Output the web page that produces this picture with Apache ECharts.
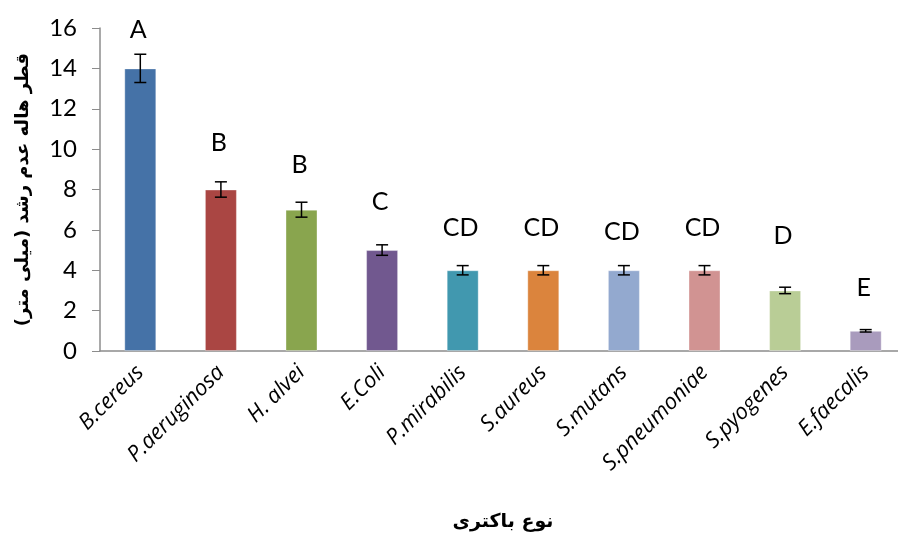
<!DOCTYPE html>
<html>
<head>
<meta charset="utf-8">
<script src="https://cdn.jsdelivr.net/npm/echarts@6/dist/echarts.min.js"></script>
<style>
  html, body { margin: 0; padding: 0; background: #fff; }
  #chart { width: 898px; height: 538px; }
</style>
</head>
<body>
<div id="chart"></div>
<script>
// bacteria (x axis)
var bacteria = ['B.cereus', 'P.aeruginosa', 'H. alvei', 'E.Coli', 'P.mirabilis',
  'S.aureus', 'S.mutans', 'S.pneumoniae', 'S.pyogenes', 'E.faecalis']
// inhibition zone diameter (mm)
var zoneMean = [14, 8, 7, 5, 4, 4, 4, 4, 3, 1]
var zoneErr = [0.7, 0.38, 0.37, 0.26, 0.23, 0.23, 0.23, 0.23, 0.16, 0.06]
// significance letters and the height they are written at
var groupLetter = ['A', 'B', 'B', 'C', 'CD', 'CD', 'CD', 'CD', 'D', 'E']
var letterY = [15.9, 10.3, 9.2, 7.4, 6.1, 6.1, 5.9, 6.1, 5.7, 3.1]
var yTicks = [0, 2, 4, 6, 8, 10, 12, 14, 16]

var barColors = ['#4572A7', '#AA4643', '#89A54E', '#71588F', '#4198AF',
  '#DB843D', '#93A9CF', '#D19392', '#B9CD96', '#A99BBD']

var chart = echarts.init(document.getElementById('chart'))

chart.setOption({
  backgroundColor: '#fff',
  animation: false,
  grid: {
    left: 100,
    top: 28,
    width: 806,
    height: 323,
    outerBoundsMode: 'none'
  },
  xAxis: {
    type: 'category',
    data: bacteria,
    name: 'نوع باکتری',
    nameLocation: 'middle',
    nameGap: 162,
    nameTextStyle: {
      fontFamily: 'DejaVu Sans',
      fontWeight: 'bold',
      fontSize: 19,
      color: '#000'
    },
    axisLine: { lineStyle: { color: '#8c8c8c', width: 1.5 } },
    axisTick: { show: false },
    axisLabel: {
      rotate: 45,
      margin: 18,
      interval: 0,
      fontFamily: 'Open Sans',
      fontStyle: 'italic',
      fontSize: 22,
      color: '#000'
    }
  },
  yAxis: {
    type: 'value',
    min: yTicks[0],
    max: yTicks[yTicks.length - 1],
    interval: 2,
    name: 'قطر هاله عدم رشد (میلی متر)',
    nameLocation: 'middle',
    nameRotate: 90,
    nameGap: 68,
    nameTextStyle: {
      fontFamily: 'DejaVu Sans',
      fontWeight: 'bold',
      fontSize: 18,
      color: '#000'
    },
    axisLine: { show: true, lineStyle: { color: '#8c8c8c', width: 1.5 } },
    axisTick: { show: true, length: 8, lineStyle: { color: '#8c8c8c' } },
    axisLabel: {
      margin: 23,
      fontFamily: 'Lato',
      fontSize: 24,
      color: '#000'
    },
    splitLine: { show: false }
  },
  series: [
    {
      type: 'bar',
      barWidth: 32,
      data: zoneMean.map(function (v, i) {
        return {
          value: v,
          itemStyle: { color: barColors[i], borderColor: 'rgba(255,255,255,0.35)', borderWidth: 1 }
        }
      })
    },
    {
      // error bars
      type: 'custom',
      data: zoneMean.map(function (v, i) { return [i, v - zoneErr[i], v + zoneErr[i]] }),
      renderItem: function (params, api) {
        var lo = api.coord([api.value(0), api.value(1)])
        var hi = api.coord([api.value(0), api.value(2)])
        var half = 6
        var style = { stroke: '#000', lineWidth: 1.5 }
        return {
          type: 'group',
          children: [
            { type: 'line', shape: { x1: lo[0], y1: lo[1], x2: hi[0], y2: hi[1] }, style: style },
            { type: 'line', shape: { x1: lo[0] - half, y1: lo[1], x2: lo[0] + half, y2: lo[1] }, style: style },
            { type: 'line', shape: { x1: hi[0] - half, y1: hi[1], x2: hi[0] + half, y2: hi[1] }, style: style }
          ]
        }
      },
      z: 3
    },
    {
      // significance letters
      type: 'custom',
      data: letterY.map(function (y, i) { return [i, y] }),
      renderItem: function (params, api) {
        var p = api.coord([api.value(0), api.value(1)])
        return {
          type: 'text',
          x: p[0] - 2,
          y: p[1],
          style: {
            text: groupLetter[params.dataIndex],
            fontFamily: 'Lato',
            fontSize: 25,
            fill: '#000',
            align: 'center',
            verticalAlign: 'middle'
          }
        }
      },
      z: 4
    }
  ]
})
</script>
</body>
</html>
